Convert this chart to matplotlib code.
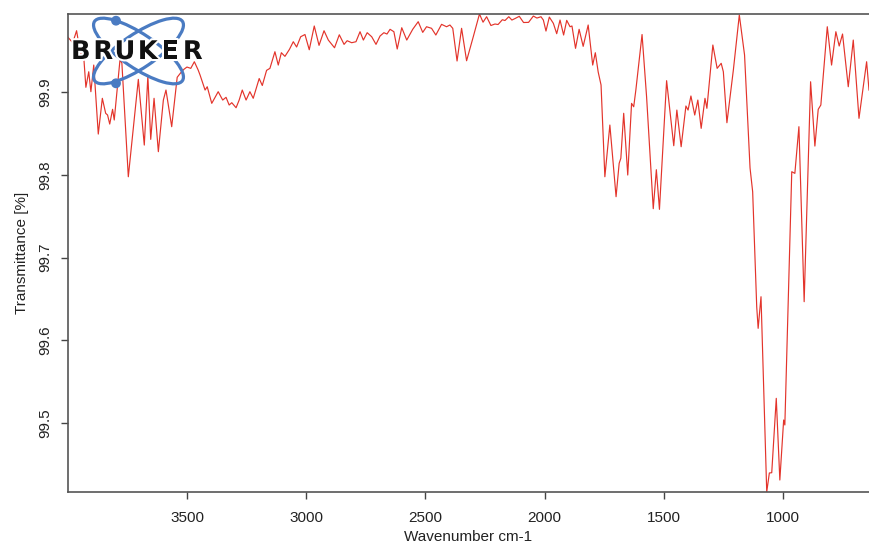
import numpy as np
import matplotlib.pyplot as plt
from matplotlib.patches import Ellipse, Circle
import matplotlib.patheffects as pe

plt.rcParams['font.family'] = ['Liberation Sans', 'DejaVu Sans']

# IR spectrum, wavenumber (cm-1) vs transmittance (%)
wavenumber = [
    3999, 3979, 3963, 3946, 3935, 3924, 3912, 3903, 3891, 3872,
    3855, 3841, 3833, 3824, 3812, 3805, 3781, 3773, 3746, 3704,
    3679, 3664, 3652, 3638, 3620, 3599, 3588, 3564, 3541, 3526,
    3513, 3500, 3484, 3469, 3453, 3445, 3424, 3415, 3396, 3369,
    3350, 3336, 3323, 3312, 3294, 3281, 3268, 3252, 3236, 3222,
    3197, 3184, 3166, 3152, 3131, 3117, 3104, 3089, 3070, 3054,
    3040, 3023, 3005, 2987, 2966, 2946, 2925, 2907, 2881, 2861,
    2841, 2828, 2809, 2791, 2774, 2760, 2744, 2725, 2707, 2690,
    2674, 2661, 2648, 2632, 2618, 2599, 2578, 2553, 2530, 2511,
    2495, 2474, 2456, 2432, 2411, 2397, 2385, 2367, 2348, 2327,
    2299, 2273, 2258, 2243, 2225, 2208, 2195, 2177, 2166, 2150,
    2137, 2124, 2106, 2088, 2067, 2047, 2032, 2015, 2005, 1994,
    1980, 1963, 1949, 1935, 1920, 1907, 1893, 1885, 1870, 1855,
    1838, 1817, 1798, 1787, 1775, 1763, 1747, 1726, 1700, 1687,
    1680, 1668, 1651, 1635, 1626, 1617, 1591, 1572, 1544, 1531,
    1518, 1488, 1458, 1445, 1427, 1407, 1398, 1386, 1370, 1357,
    1343, 1327, 1319, 1294, 1276, 1259, 1250, 1235, 1208, 1183,
    1161, 1138, 1127, 1110, 1104, 1092, 1068, 1057, 1047, 1028,
    1013, 997, 992, 963, 950, 933, 911, 884, 866, 852,
    841, 814, 796, 778, 764, 750, 726, 705, 681, 649,
    639,
]
transmittance = [
    99.9661, 99.9596, 99.9741, 99.9447, 99.9508, 99.9057, 99.9245, 99.9004, 99.9326, 99.8492,
    99.8924, 99.8743, 99.8722, 99.8613, 99.8791, 99.8662, 99.9387, 99.9350, 99.7976, 99.9153,
    99.8359, 99.9193, 99.8428, 99.8924, 99.8279, 99.8903, 99.9024, 99.8581, 99.9178, 99.9233,
    99.9274, 99.9302, 99.9286, 99.9366, 99.9266, 99.9205, 99.9024, 99.9064, 99.8863, 99.9004,
    99.8903, 99.8936, 99.8843, 99.8871, 99.8810, 99.8903, 99.9024, 99.8903, 99.9004, 99.8924,
    99.9163, 99.9079, 99.9262, 99.9286, 99.9487, 99.9326, 99.9475, 99.9431, 99.9516, 99.9608,
    99.9544, 99.9668, 99.9695, 99.9511, 99.9798, 99.9564, 99.9741, 99.9628, 99.9535, 99.9692,
    99.9576, 99.9620, 99.9596, 99.9608, 99.9729, 99.9628, 99.9717, 99.9668, 99.9576, 99.9677,
    99.9717, 99.9701, 99.9758, 99.9729, 99.9520, 99.9777, 99.9628, 99.9758, 99.9850, 99.9721,
    99.9789, 99.9770, 99.9689, 99.9818, 99.9789, 99.9810, 99.9770, 99.9375, 99.9770, 99.9378,
    99.9668, 99.9943, 99.9844, 99.9910, 99.9804, 99.9822, 99.9816, 99.9874, 99.9864, 99.9910,
    99.9870, 99.9888, 99.9915, 99.9840, 99.9842, 99.9918, 99.9894, 99.9910, 99.9870, 99.9737,
    99.9906, 99.9830, 99.9705, 99.9870, 99.9689, 99.9866, 99.9789, 99.9798, 99.9528, 99.9758,
    99.9552, 99.9810, 99.9326, 99.9475, 99.9242, 99.9085, 99.7976, 99.8601, 99.7735, 99.8138,
    99.8199, 99.8743, 99.7997, 99.8863, 99.8822, 99.9024, 99.9695, 99.8943, 99.7590, 99.8061,
    99.7582, 99.9137, 99.8351, 99.8782, 99.8339, 99.8831, 99.8782, 99.8952, 99.8722, 99.8903,
    99.8561, 99.8924, 99.8803, 99.9568, 99.9286, 99.9347, 99.9245, 99.8629, 99.9266, 99.9931,
    99.9447, 99.8082, 99.7795, 99.6405, 99.6144, 99.6526, 99.4166, 99.4396, 99.4399, 99.5298,
    99.4311, 99.5036, 99.4976, 99.8037, 99.8017, 99.8581, 99.6466, 99.9124, 99.8347, 99.8791,
    99.8843, 99.9789, 99.9326, 99.9729, 99.9556, 99.9701, 99.9064, 99.9628, 99.8682, 99.9366,
    99.9024,
]

x_ticks = [3500, 3000, 2500, 2000, 1500, 1000]
y_ticks = [99.5, 99.6, 99.7, 99.8, 99.9]

W, H = 869, 546
fig = plt.figure(figsize=(W / 100, H / 100), dpi=100)
ax = fig.add_axes([68 / W, 54 / H, 801 / W, 478 / H])

ax.plot(wavenumber, transmittance, color='#e3342b', lw=0.85)
ax.set_xlim(max(wavenumber), min(wavenumber))
ax.set_ylim(min(transmittance), max(transmittance))

ax.set_xticks(x_ticks)
ax.set_yticks(y_ticks)
ax.set_yticklabels([f'{v:.1f}' for v in y_ticks], rotation=90, va='center')
ax.tick_params(axis='both', direction='out', length=5, width=1.0,
               color='#444444', labelsize=11, labelcolor='#222222')
ax.tick_params(axis='x', pad=9)
ax.tick_params(axis='y', pad=6)

for side in ['left', 'bottom', 'top']:
    ax.spines[side].set_color('#555555')
    ax.spines[side].set_linewidth(1.2)
ax.spines['right'].set_visible(False)

ax.set_xlabel('Wavenumber cm-1', fontsize=11, color='#222222', labelpad=3)
ax.set_ylabel('Transmittance [%]', fontsize=11, color='#222222', labelpad=7)

# logo overlay in pixel coordinates
lg = fig.add_axes([0, 0, 1, 1], zorder=5)
lg.set_xlim(0, W)
lg.set_ylim(H, 0)
lg.axis('off')
blue = '#4a7bc2'
for ang in (34, -34):
    lg.add_patch(Ellipse((138.5, 51), 106, 34, angle=ang, fill=False,
                         ec=blue, lw=2.3))
for cy in (20.7, 83.3):
    lg.add_patch(Circle((116, cy), 4.2, color=blue))
for ch, cx in zip('BRUKER', [80.8, 103.3, 125, 147.8, 170, 192.8]):
    lg.text(cx, 52, ch, ha='center', va='center', fontsize=18.5,
            fontweight='heavy', family='DejaVu Sans', color='#111111',
            path_effects=[pe.withStroke(linewidth=3, foreground='white')])

fig.savefig('out.png', dpi=100)
